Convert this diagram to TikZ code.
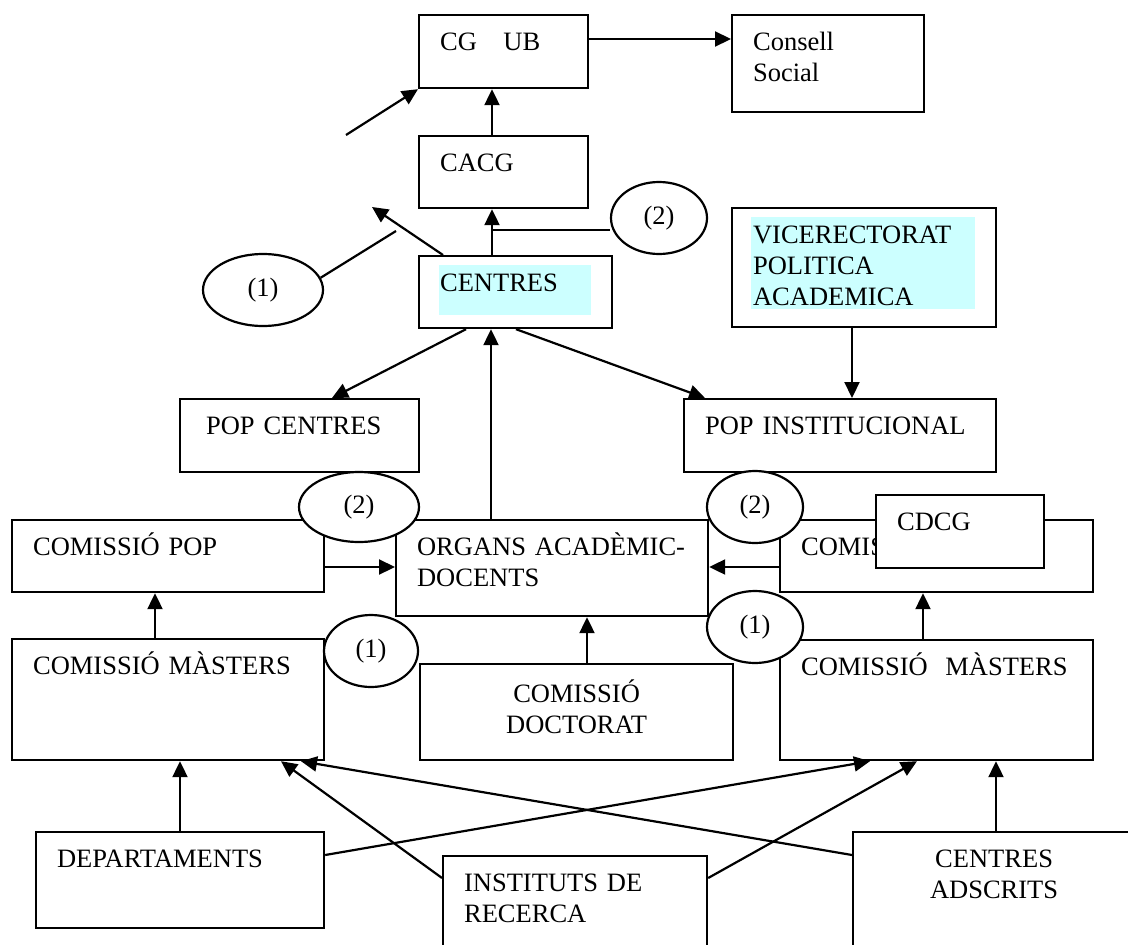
\documentclass[tikz,border=0pt]{standalone}
\usepackage{fontspec}
\setmainfont{Liberation Serif}
\usetikzlibrary{arrows.meta, shapes.geometric}
\definecolor{hilite}{HTML}{CCFFFF}

\begin{document}
\begin{tikzpicture}[x=1pt, y=-1pt, font=\fontsize{26.5}{31}\selectfont]

	\tikzstyle{block} = [rectangle, draw, line width=2.2pt, anchor=north west, align=left, inner xsep=21pt, inner ysep=0pt, text height=35pt]
	\tikzstyle{line} = [draw, line width=2.2pt, -{Triangle[length=16pt, width=15pt]}]
	\tikzstyle{plain} = [draw, line width=2.2pt]
	\tikzstyle{ovalblock} = [ellipse, draw, fill=white, line width=2.2pt, inner sep=0pt]

	\path[use as bounding box, clip] (0,0) rectangle (1128,945);

	% shaded text
	\fill[hilite] (439,265) rectangle (591,315);
	\fill[hilite] (751,217) rectangle (975,309);

	\node [block, text width=127pt, text depth=38pt] (cgub) at (418,14) {CG\ \ \ UB};
	\node [block, text width=150pt, text depth=62pt] (consell) at (731,14) {Consell\\Social};
	\node [block, text width=127pt, text depth=37pt] (cacg) at (418,135) {CACG};
	\node [block, text width=151pt, text depth=37pt] (centres) at (418,255) {CENTRES};
	\node [block, text width=222pt, text depth=84pt] (vice) at (731,207) {VICERECTORAT\\POLITICA\\ACADEMICA};
	\node [block, inner xsep=26pt, text width=187pt, text depth=38pt] (popc) at (179,398) {POP CENTRES};
	\node [block, text width=270pt, text depth=38pt] (popi) at (683,398) {POP INSTITUCIONAL};
	\node [block, text width=270pt, text depth=37pt] (compop) at (11,519) {COMISSIÓ POP};
	\node [block, text width=270pt, text depth=61pt] (organs) at (395,519) {ORGANS ACADÈMIC-\\DOCENTS};
	\node [block, text width=271pt, text depth=37pt] (comisr) at (779,519) {COMISSIÓ POP};
	\node [block, fill=white, text width=126pt, text depth=38pt] (cdcg) at (875,494) {CDCG};
	\node [block, text width=270pt, text depth=86pt] (mastl) at (11,638) {COMISSIÓ MÀSTERS};
	\node [block, text width=271pt, text depth=85pt] (mastr) at (779,639) {COMISSIÓ\ \ MÀSTERS};
	\node [block, align=center, text height=38pt, text width=271pt, text depth=58pt] (doct) at (419,663) {COMISSIÓ\\DOCTORAT};
	\node [block, text width=246pt, text depth=61pt] (dept) at (35,831) {DEPARTAMENTS};
	\node [block, text width=222pt, text depth=85pt] (inst) at (442,855) {INSTITUTS DE\\RECERCA};
	\node [block, align=center, text width=240pt, text depth=95pt] (adsc) at (852,831) {CENTRES\\ADSCRITS};

	% notes
	\node [ovalblock, minimum width=96pt, minimum height=72pt] (e2top) at (659,218) {(2)};
	\node [ovalblock, minimum width=120pt, minimum height=72pt] (e1top) at (263,290) {(1)};
	\node [ovalblock, minimum width=120pt, minimum height=70pt] (e2l) at (359,507) {(2)};
	\node [ovalblock, minimum width=94pt, minimum height=72pt] (e1l) at (371,651) {(1)};
	\node [ovalblock, minimum width=96pt, minimum height=72pt] (e2r) at (755,507) {(2)};
	\node [ovalblock, minimum width=96pt, minimum height=72pt] (e1r) at (755,627) {(1)};

	\coordinate (f1) at (346,135);
	\coordinate (f2) at (372,207);
	\coordinate (f3) at (396,231);
	\coordinate (tap) at (492,230);

	\path [line] (cgub.east |- 0,39) -- (consell.west |- 0,39);
	\path [line] (492,0 |- cacg.north) -- (492,0 |- cgub.south);
	\path [line] (f1) -- (cgub.south west);
	\path [line] (492,0 |- centres.north) -- (492,0 |- cacg.south);
	\path [plain] (tap) -- (tap -| e2top.west);
	\path [line] (443,0 |- centres.north) -- (f2);
	\path [plain] (e1top.12) -- (f3);
	\path [line] (466,0 |- centres.south) -- (332,0 |- popc.north);
	\path [line] (516,0 |- centres.south) -- (705,0 |- popi.north);
	\path [line] (852,0 |- vice.south) -- (852,0 |- popi.north);
	\path [line] (491,0 |- organs.north) -- (491,0 |- centres.south);
	\path [line] (compop.east |- 0,567) -- (organs.west |- 0,567);
	\path [line] (comisr.west |- 0,567) -- (organs.east |- 0,567);
	\path [line] (155,0 |- mastl.north) -- (155,0 |- compop.south);
	\path [line] (923,0 |- mastr.north) -- (923,0 |- comisr.south);
	\path [line] (587,0 |- doct.north) -- (587,0 |- organs.south);
	\path [line] (180,0 |- dept.north) -- (180,0 |- mastl.south);
	\path [line] (dept.east |- 0,855) -- (870,0 |- mastr.south);
	\path [line] (inst.west |- 0,878) -- (281,0 |- mastl.south);
	\path [line] (inst.east |- 0,878) -- (917,0 |- mastr.south);
	\path [line] (adsc.west |- 0,855) -- (301,0 |- mastl.south);
	\path [line] (996,0 |- adsc.north) -- (996,0 |- mastr.south);
\end{tikzpicture}
\end{document}
